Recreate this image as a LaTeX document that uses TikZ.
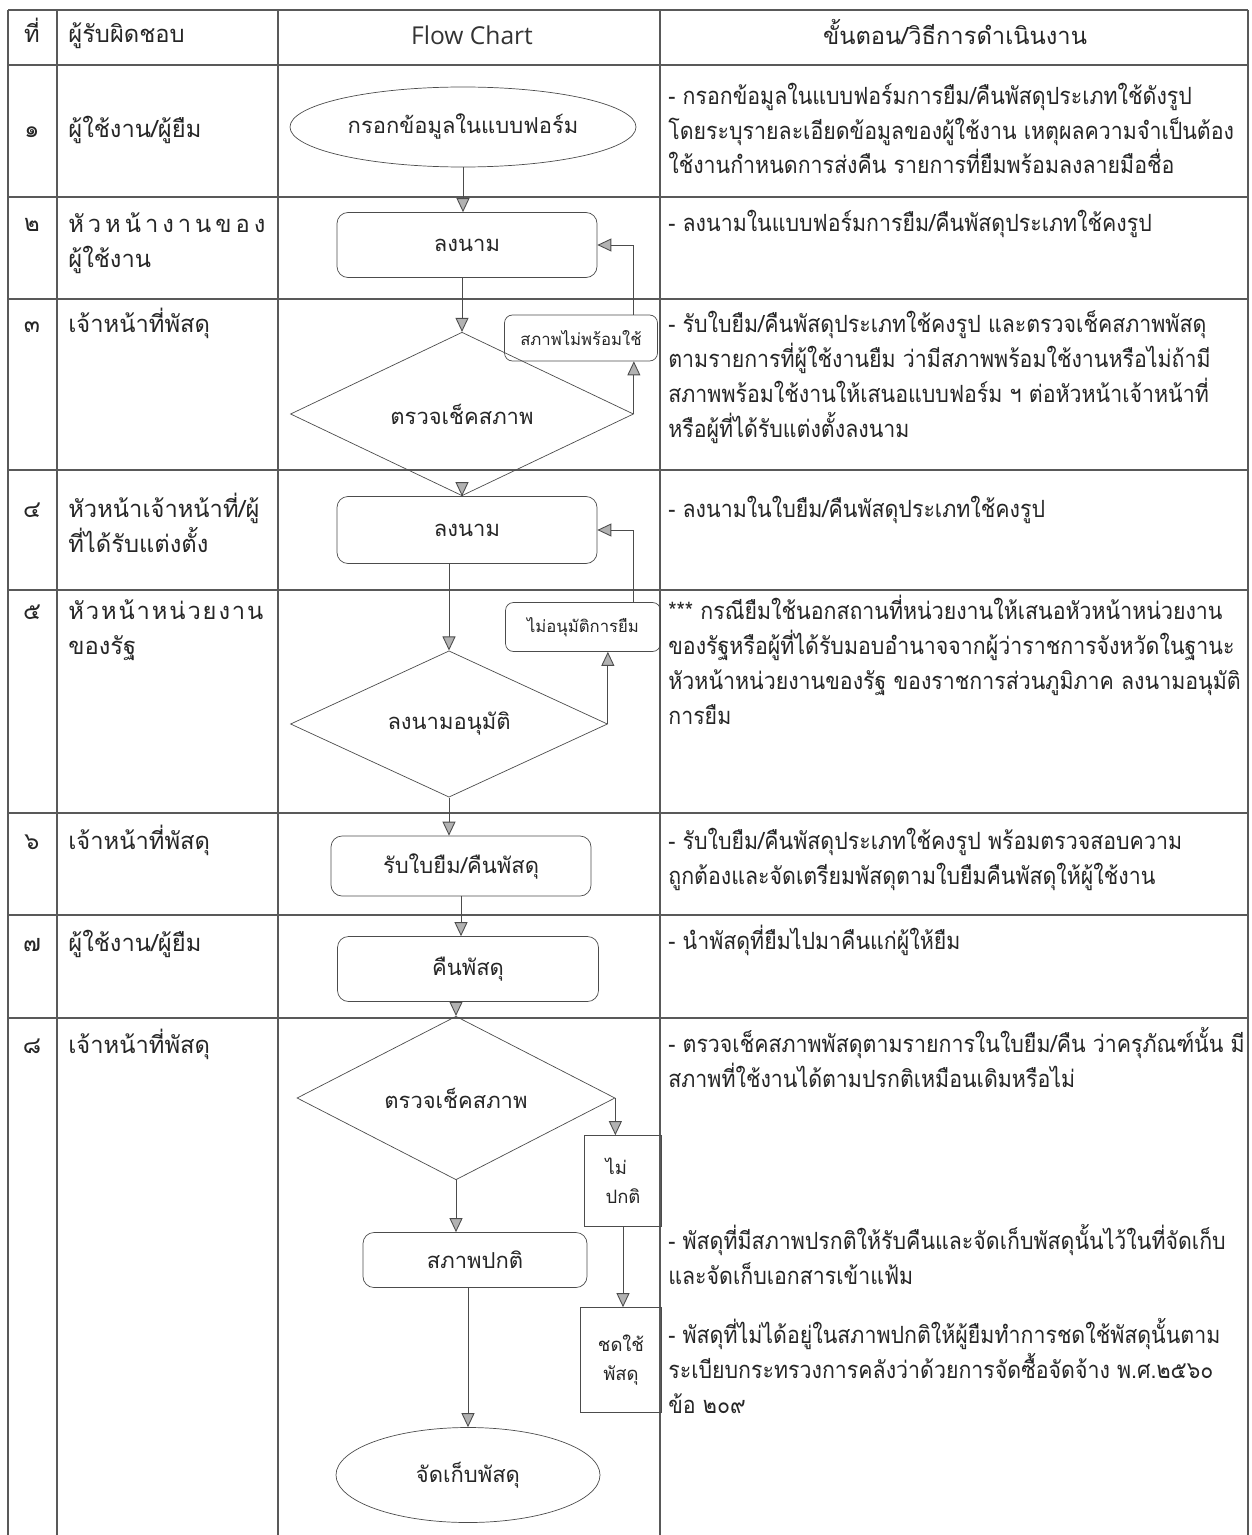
\documentclass[tikz,border=0pt]{standalone}
\usepackage{fontspec}
\setmainfont{Loma}[Script=Thai]
\newfontfamily\stepfamily{Loma}[Script=Thai, FakeStretch=0.9]
\newfontfamily\latinfont{Open Sans}
\usepackage{tikz}
\usetikzlibrary{shapes.geometric,positioning,arrows.meta}
\tikzset{>={Triangle[width=2.6mm,length=2.8mm,fill=gray!60]}}
\newcommand\bodyfont{\fontsize{13.5}{19.9}\selectfont}
\newcommand\stepfont{\stepfamily\fontsize{13.5}{19.9}\selectfont}
\newcommand\boxfont{\fontsize{12.5}{18}\selectfont}
\newcommand\smallboxfont{\fontsize{9.5}{13}\selectfont}
\newcommand\narrowfont{\fontsize{10.5}{16.5}\selectfont}
\tikzset{tabline/.style={draw=black!65, line width=0.6pt},
	flow/.style={->, draw=black!70, line width=0.5pt},
	txt/.style={anchor=base west, inner sep=0pt, align=left, text=black!85, font=\bodyfont},
	steptxt/.style={txt, font=\stepfont},
	num/.style={anchor=base, inner sep=0pt, text=black!85, font=\bodyfont},
	rbox/.style={draw=black!70, rounded corners=2.2mm, inner sep=0pt, text=black!85, font=\boxfont},
	sbox/.style={draw=black!70, rounded corners=1.6mm, inner sep=0pt, text=black!85, font=\smallboxfont},
	qbox/.style={draw=black!70, inner sep=0pt, text=black!85, font=\narrowfont},
	oval/.style={ellipse, draw=black!70, inner sep=0pt, text=black!85, font=\boxfont},
	chk/.style={diamond, draw=black!70, inner sep=0pt, text=black!85, font=\boxfont}}

\begin{document}
\begin{tikzpicture}[x=0.2mm, y=-0.2mm]
	\useasboundingbox (0,0) rectangle (1252,1535);
	% table
	\draw[tabline] (8,10) -- (1248,10);
	\draw[tabline] (8,65) -- (1248,65);
	\draw[tabline] (8,197) -- (1248,197);
	\draw[tabline] (8,299) -- (1248,299);
	\draw[tabline] (8,470) -- (1248,470);
	\draw[tabline] (8,590) -- (1248,590);
	\draw[tabline] (8,813) -- (1248,813);
	\draw[tabline] (8,915) -- (1248,915);
	\draw[tabline] (8,1018) -- (1248,1018);
	\draw[tabline] (8,10) -- (8,1535);
	\draw[tabline] (57,10) -- (57,1535);
	\draw[tabline] (278,10) -- (278,1535);
	\draw[tabline] (660,10) -- (660,1535);
	\draw[tabline] (1248,10) -- (1248,1535);
	
	% header
	\node[num] (hno) at (32,43) {ที่};
	\node[txt] (hwho) at (68,43) {ผู้รับผิดชอบ};
	\node[anchor=base, inner sep=0pt, text=black!80, font=\latinfont\fontsize{14}{17}\selectfont] (hflow) at (472,45) {Flow Chart};
	\node[num] (hstep) at (955,45) {ขั้นตอน/วิธีการดำเนินงาน};
	
	% who (multi-line nodes: base is the last line)
	\node[num] (no1) at (32,138) {๑};
	\node[txt] (who1) at (68,138) {ผู้ใช้งาน/ผู้ยืม};
	\node[num] (no2) at (32,232) {๒};
	\node[txt] (who2) at (68,267) {\makebox[39.4mm][s]{หั\hfill ว\hfill ห\hfill น้\hfill า\hfill ง\hfill า\hfill น\hfill ข\hfill อ\hfill ง}\\ผู้ใช้งาน};
	\node[num] (no3) at (32,332) {๓};
	\node[txt] (who3) at (68,332) {เจ้าหน้าที่พัสดุ};
	\node[num] (no4) at (32,517) {๔};
	\node[txt] (who4) at (68,552) {หัวหน้าเจ้าหน้าที่/ผู้\\ที่ได้รับแต่งตั้ง};
	\node[num] (no5) at (32,619) {๕};
	\node[txt] (who5) at (68,654) {\makebox[39mm][s]{หั\hfill ว\hfill ห\hfill น้\hfill า\hfill ห\hfill น่\hfill ว\hfill ย\hfill ง\hfill า\hfill น}\\ของรัฐ};
	\node[num] (no6) at (32,849) {๖};
	\node[txt] (who6) at (68,849) {เจ้าหน้าที่พัสดุ};
	\node[num] (no7) at (32,951) {๗};
	\node[txt] (who7) at (68,951) {ผู้ใช้งาน/ผู้ยืม};
	\node[num] (no8) at (32,1053) {๘};
	\node[txt] (who8) at (68,1053) {เจ้าหน้าที่พัสดุ};
	
	% steps
	\node[steptxt] (step1) at (668,174) {- กรอกข้อมูลในแบบฟอร์มการยืม/คืนพัสดุประเภทใช้ดังรูป\\
		โดยระบุรายละเอียดข้อมูลของผู้ใช้งาน เหตุผลความจำเป็นต้อง\\
		ใช้งานกำหนดการส่งคืน รายการที่ยืมพร้อมลงลายมือชื่อ};
	\node[steptxt] (step2) at (668,232) {- ลงนามในแบบฟอร์มการยืม/คืนพัสดุประเภทใช้คงรูป};
	\node[steptxt] (step3) at (668,437) {- รับใบยืม/คืนพัสดุประเภทใช้คงรูป และตรวจเช็คสภาพพัสดุ\\
		ตามรายการที่ผู้ใช้งานยืม ว่ามีสภาพพร้อมใช้งานหรือไม่ถ้ามี\\
		สภาพพร้อมใช้งานให้เสนอแบบฟอร์ม ฯ ต่อหัวหน้าเจ้าหน้าที่\\
		หรือผู้ที่ได้รับแต่งตั้งลงนาม};
	\node[steptxt] (step4) at (668,517) {- ลงนามในใบยืม/คืนพัสดุประเภทใช้คงรูป};
	\node[steptxt] (step5) at (668,724) {*** กรณียืมใช้นอกสถานที่หน่วยงานให้เสนอหัวหน้าหน่วยงาน\\
		ของรัฐหรือผู้ที่ได้รับมอบอำนาจจากผู้ว่าราชการจังหวัดในฐานะ\\
		หัวหน้าหน่วยงานของรัฐ ของราชการส่วนภูมิภาค ลงนามอนุมัติ\\
		การยืม};
	\node[steptxt] (step6) at (668,884) {- รับใบยืม/คืนพัสดุประเภทใช้คงรูป พร้อมตรวจสอบความ\\
		ถูกต้องและจัดเตรียมพัสดุตามใบยืมคืนพัสดุให้ผู้ใช้งาน};
	\node[steptxt] (step7) at (668,949) {- นำพัสดุที่ยืมไปมาคืนแก่ผู้ให้ยืม};
	\node[steptxt] (step8) at (668,1087) {- ตรวจเช็คสภาพพัสดุตามรายการในใบยืม/คืน ว่าครุภัณฑ์นั้น มี\\
		สภาพที่ใช้งานได้ตามปรกติเหมือนเดิมหรือไม่};
	\node[steptxt] (step8ok) at (668,1284) {- พัสดุที่มีสภาพปรกติให้รับคืนและจัดเก็บพัสดุนั้นไว้ในที่จัดเก็บ\\
		และจัดเก็บเอกสารเข้าแฟ้ม};
	\node[steptxt] (step8pay) at (668,1413) {- พัสดุที่ไม่ได้อยู่ในสภาพปกติให้ผู้ยืมทำการชดใช้พัสดุนั้นตาม\\
		ระเบียบกระทรวงการคลังว่าด้วยการจัดซื้อจัดจ้าง พ.ศ.๒๕๖๐\\
		ข้อ ๒๐๙};
	
	% flow chart
	\node[oval, minimum width=69.2mm, minimum height=16mm] (fill1) at (463,127) {กรอกข้อมูลในแบบฟอร์ม};
	\node[rbox, minimum width=52mm, minimum height=13mm] (sign1) at (467,245) {ลงนาม};
	\node[sbox, minimum width=30.6mm, minimum height=9.2mm] (bad1) at (581,338) {สภาพไม่พร้อมใช้};
	\node[chk, minimum width=68.6mm, minimum height=17.8mm] (chk1) at (462,414) {ตรวจเช็คสภาพ};
	\node[rbox, minimum width=52mm, minimum height=13.4mm] (sign2) at (467,530) {ลงนาม};
	\node[sbox, minimum width=31mm, minimum height=9.8mm] (rej) at (583,627) {ไม่อนุมัติการยืม};
	\node[chk, minimum width=63.4mm, minimum height=18.2mm] (apv) at (449,724) {ลงนามอนุมัติ};
	\node[rbox, minimum width=52mm, minimum height=12mm] (recv) at (461,866) {รับใบยืม/คืนพัสดุ};
	\node[rbox, minimum width=52.2mm, minimum height=13mm] (ret) at (468,969) {คืนพัสดุ};
	\node[chk, minimum width=63.6mm, minimum height=18mm] (chk2) at (456,1098) {ตรวจเช็คสภาพ};
	\node[qbox, minimum width=15.4mm, minimum height=18.2mm, align=left] (abn) at (623,1181) {ไม่\\ปกติ};
	\node[qbox, minimum width=16.2mm, minimum height=21mm, align=center] (pay) at (621,1360) {ชดใช้\\พัสดุ};
	\node[rbox, minimum width=44.8mm, minimum height=11mm] (okst) at (475,1260) {สภาพปกติ};
	\node[oval, minimum width=52.8mm, minimum height=19mm] (store) at (468,1475) {จัดเก็บพัสดุ};
	
	\draw[flow] (fill1.south) -- (fill1.south |- sign1.north);
	\draw[flow] (chk1.north |- sign1.south) -- (chk1.north);
	\draw[flow] (chk1.east) -- (chk1.east |- bad1.south);
	\draw[flow] (chk1.east |- bad1.north) |- (sign1.east);
	\draw[flow] (chk1.south) -- (chk1.south |- sign2.north);
	\draw[flow] (apv.north |- sign2.south) -- (apv.north);
	\draw[flow] (apv.east) -- (apv.east |- rej.south);
	\draw[flow] (chk1.east |- rej.north) |- (sign2.east);
	\draw[flow] (apv.south) -- (apv.south |- recv.north);
	\draw[flow] (recv.south) -- (recv.south |- ret.north);
	\draw[flow] (chk2.north |- ret.south) -- (chk2.north);
	\draw[flow] (chk2.east) -- (chk2.east |- abn.north);
	\draw[flow] (abn.south) -- (abn.south |- pay.north);
	\draw[flow] (chk2.south) -- (chk2.south |- okst.north);
	\draw[flow] (store.north |- okst.south) -- (store.north);
	
	%	\draw[very thin,color=gray] (0,0) grid[step=100] (1252,1535);
\end{tikzpicture}
\end{document}
